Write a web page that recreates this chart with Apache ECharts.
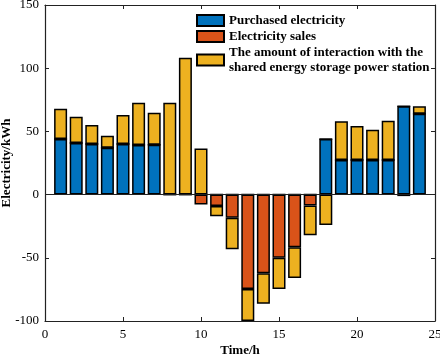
<!DOCTYPE html>
<html>
<head>
<meta charset="utf-8">
<script src="https://cdn.jsdelivr.net/npm/echarts@6/dist/echarts.min.js"></script>
<style>
  html, body { margin: 0; padding: 0; background: #fff; }
  #chart { width: 440px; height: 355px; }
</style>
</head>
<body>
<div id="chart"></div>
<script>
// hours 0..25 on the time axis, bars at 1..24
const hours = ['0', '1', '2', '3', '4', '5', '6', '7', '8', '9', '10', '11', '12', '13', '14', '15', '16', '17', '18', '19', '20', '21', '22', '23', '24', '25']
const purchased = [null, 44, 40.8, 40, 37, 40, 39.3, 39.5, 0, 0, 0, 0, 0, 0, 0, 0, 0, 0, 44, 27.4, 27.4, 27.4, 27.4, 69.8, 64, null]
const sales = [null, 0, 0, 0, 0, 0, 0, 0, 0, 0, -7.9, -9, -18.4, -74.6, -62.2, -50, -41.6, -8.7, 0, 0, 0, 0, 0, 0, 0, null]
const interaction = [null, 24, 20.8, 15, 9.6, 23, 33.4, 25.3, 72.7, 108.3, 36.4, -8.1, -24.8, -25.4, -24.2, -24.6, -24.3, -23.4, -24, 30.6, 26.9, 24, 31.1, -1.2, 5.8, null]
const yTicks = [-100, 150, 50]   // min, max, interval

const serif = '"Liberation Serif", "DejaVu Serif", serif'

const chart = echarts.init(document.getElementById('chart'))

const barStyle = color => ({
  color: color,
  borderColor: '#000',
  borderWidth: 1.5
})

const axisLine = { show: true, onZero: false, lineStyle: { color: '#222', width: 1.2 } }
const axisTick = { show: true, inside: true, length: 4, lineStyle: { color: '#222' } }
const labelStyle = { color: '#000', fontFamily: serif, fontSize: 13 }
const nameStyle = { fontFamily: serif, fontSize: 13, fontWeight: 'bold', color: '#000' }

chart.setOption({
  animation: false,
  grid: { left: 45, right: 5, top: 5, bottom: 34, outerBoundsMode: 'none' },
  legend: {
    orient: 'vertical',
    left: 196,
    top: 13,
    padding: 0,
    icon: 'rect',
    itemWidth: 27,
    itemHeight: 11,
    itemGap: 1,
    textStyle: { fontFamily: serif, fontSize: 13, fontWeight: 'bold', color: '#000', lineHeight: 15 },
    data: ['Purchased electricity', 'Electricity sales', 'The amount of interaction with the\nshared energy storage power station']
  },
  xAxis: [
    {
      type: 'category',
      data: hours,
      boundaryGap: false,
      axisLine: axisLine,
      axisTick: Object.assign({}, axisTick, { interval: 4 }),
      axisLabel: Object.assign({}, labelStyle, { interval: 4, margin: 7 }),
      splitLine: { show: false },
      name: 'Time/h',
      nameLocation: 'middle',
      nameMoveOverlap: false,
      nameGap: 23,
      nameTextStyle: nameStyle
    },
    {
      type: 'category',
      data: hours,
      position: 'top',
      boundaryGap: false,
      axisLine: axisLine,
      axisTick: Object.assign({}, axisTick, { interval: 4 }),
      axisLabel: { show: false },
      splitLine: { show: false }
    }
  ],
  yAxis: [
    {
      type: 'value',
      min: yTicks[0], max: yTicks[1], interval: yTicks[2],
      axisLine: axisLine,
      axisTick: axisTick,
      axisLabel: Object.assign({}, labelStyle, { margin: 6 }),
      splitLine: { show: false },
      name: 'Electricity/kWh',
      nameLocation: 'middle',
      nameMoveOverlap: false,
      nameGap: 32,
      nameTextStyle: nameStyle
    },
    {
      type: 'value',
      position: 'right',
      min: yTicks[0], max: yTicks[1], interval: yTicks[2],
      axisLine: axisLine,
      axisTick: axisTick,
      axisLabel: { show: false },
      splitLine: { show: false }
    }
  ],
  series: [
    {
      name: 'Purchased electricity',
      type: 'bar',
      stack: 'e',
      barWidth: 13,
      itemStyle: barStyle('#0072BD'),
      data: purchased,
      markLine: {
        silent: true,
        symbol: 'none',
        label: { show: false },
        lineStyle: { color: '#222', width: 1, type: 'solid' },
        data: [{ yAxis: 0 }]
      }
    },
    {
      name: 'Electricity sales',
      type: 'bar',
      stack: 'e',
      barWidth: 13,
      itemStyle: barStyle('#D95319'),
      data: sales
    },
    {
      name: 'The amount of interaction with the\nshared energy storage power station',
      type: 'bar',
      stack: 'e',
      barWidth: 13,
      itemStyle: barStyle('#EDB120'),
      data: interaction
    }
  ]
})
</script>
</body>
</html>
